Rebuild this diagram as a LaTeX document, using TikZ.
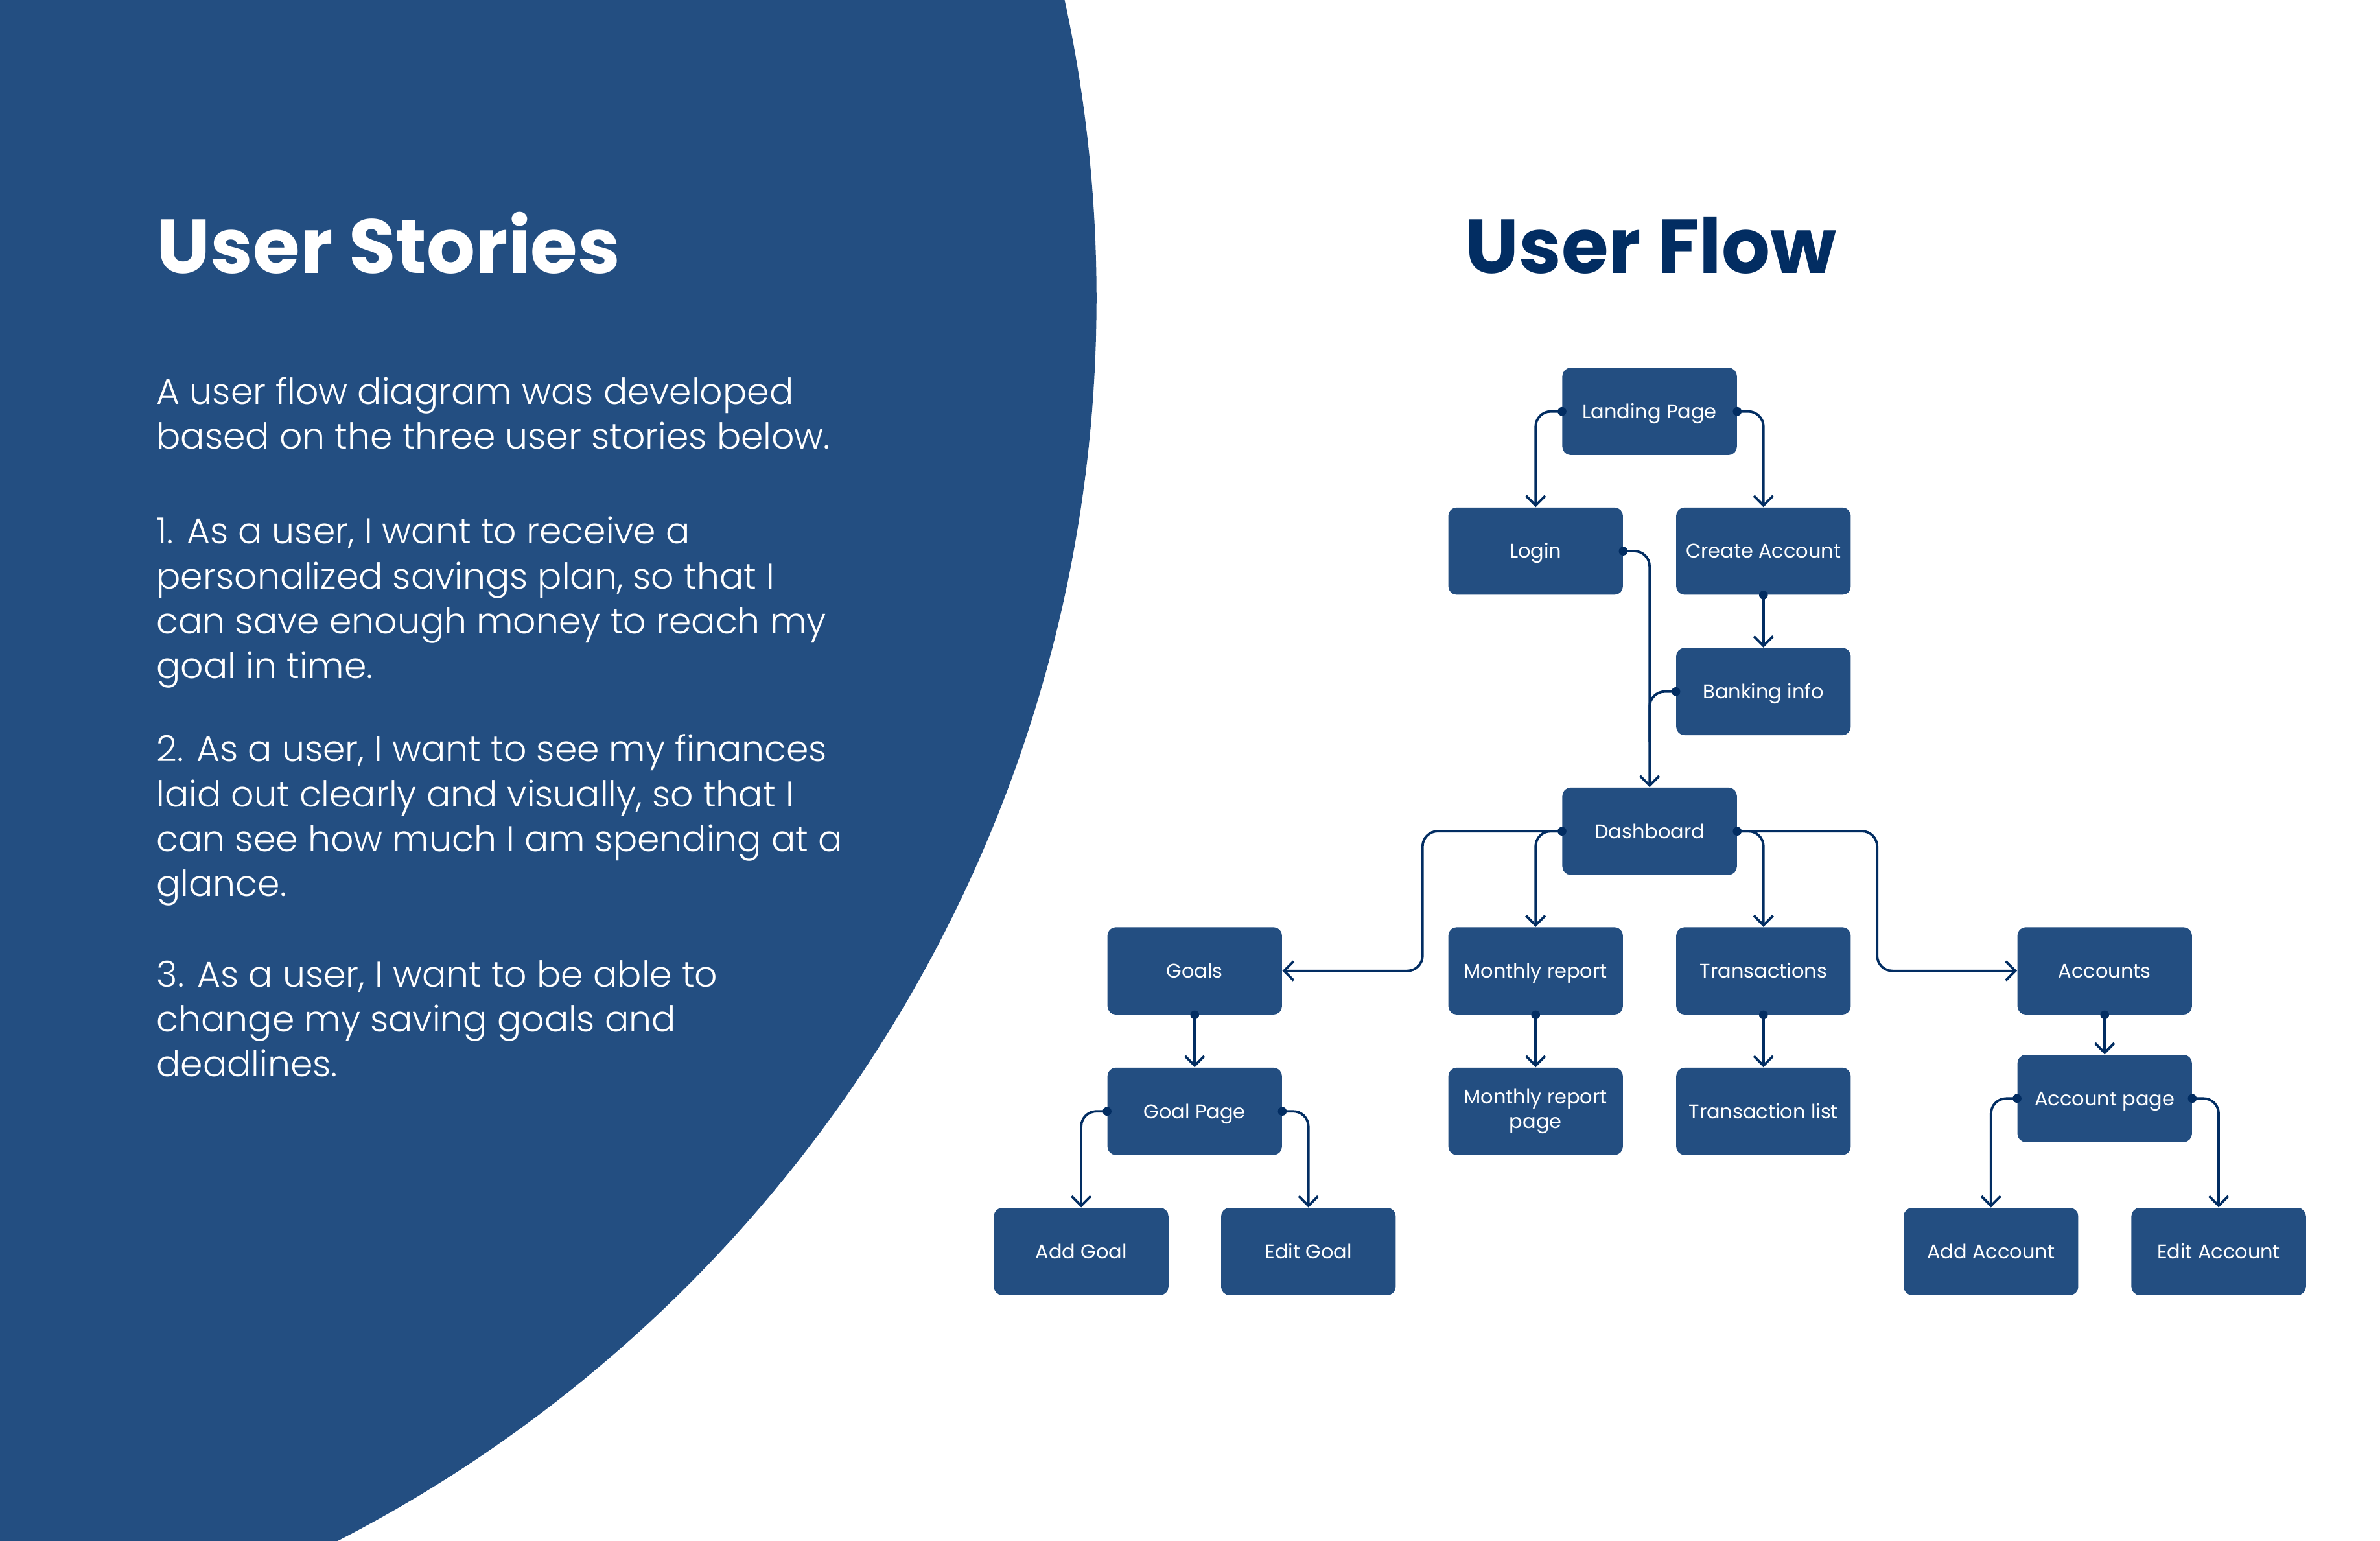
\documentclass[tikz,border=0pt]{standalone}
\usepackage{fontspec}
\usetikzlibrary{arrows.meta}
\newfontfamily\titlefont{Poppins}
\newfontfamily\bodyfont{Poppins Light}
\newfontfamily\boxfont{Poppins}
\definecolor{circblue}{HTML}{234E81}
\definecolor{navy}{HTML}{022D62}
\begin{document}
\begin{tikzpicture}[x=1pt,y=-1pt,
  box/.style={rectangle, rounded corners=5.5pt, fill=circblue, minimum width=115pt, minimum height=57.5pt, inner sep=0pt, text=white, font=\boxfont\fontsize{13}{14.2}\selectfont},
  oneline/.style={text height=9.3pt, text depth=0pt},
  conn/.style={draw=navy, line width=1.6pt, rounded corners=10pt, -{Straight Barb[length=6.3pt,width=12.6pt]}},
  link/.style={draw=navy, line width=1.6pt, rounded corners=10pt},
  para/.style={anchor=base west, inner sep=0pt, align=left, text=white, font=\bodyfont\fontsize{23.6}{29.6}\selectfont},
  ttl/.style={anchor=base west, inner sep=0pt, font=\titlefont\bfseries\fontsize{50.3}{60}\selectfont}
]
\useasboundingbox (0,0) rectangle (1568,1015);
\fill[white] (0,0) rectangle (1568,1015);
\begin{scope}
  \clip (0,0) rectangle (1568,1015);
  \fill[circblue] (-197.3,196.4) circle (919.7pt);
\end{scope}

% titles
\node[ttl, text=white] (ustitle) at (103,180) {User Stories};
\node[ttl, text=navy] (uftitle) at (965,180) {User Flow};

% paragraphs (anchored at the baseline of their last line)
\node[para] (p0) at (103,295.7) {A user flow diagram was developed\\based on the three user stories below.};
\node[para] (p1) at (103,447.0) {1. As a user, I want to receive a\\personalized savings plan, so that I\\can save enough money to reach my\\goal in time.};
\node[para] (p2) at (103,590.4) {2. As a user, I want to see my finances\\laid out clearly and visually, so that I\\can see how much I am spending at a\\glance.};
\node[para] (p3) at (103,709.2) {3. As a user, I want to be able to\\change my saving goals and\\deadlines.};

% flow nodes
\node[box,oneline] (landing) at (1086.8,271) {Landing Page};
\node[box,oneline] (login) at (1011.7,363) {Login};
\node[box,oneline] (create) at (1161.8,363) {Create Account};
\node[box,oneline] (bank) at (1161.8,455.5) {Banking info};
\node[box,oneline] (dash) at (1086.8,547.5) {Dashboard};
\node[box,oneline] (goals) at (787.1,639.5) {Goals};
\node[box,oneline] (monthly) at (1011.7,639.5) {Monthly report};
\node[box,oneline] (trans) at (1161.8,639.5) {Transactions};
\node[box,oneline] (accounts) at (1386.6,639.5) {Accounts};
\node[box,oneline] (gpage) at (787.1,732) {Goal Page};
\node[box,align=center,font=\boxfont\fontsize{13}{16}\selectfont] (mpage) at (1011.7,732) {Monthly report\\page};
\node[box,oneline] (tlist) at (1161.8,732) {Transaction list};
\node[box,oneline] (apage) at (1386.6,723.5) {Account page};
\node[box,oneline] (addgoal) at (712.3,824.3) {Add Goal};
\node[box,oneline] (editgoal) at (862,824.3) {Edit Goal};
\node[box,oneline] (addacc) at (1311.7,824.3) {Add Account};
\node[box,oneline] (editacc) at (1461.7,824.3) {Edit Account};

\coordinate (lbus) at (937.2,593);
\coordinate (rbus) at (1236.7,593);

% connectors
\draw[conn] (landing.west) -| (login.north);
\draw[conn] (landing.east) -| (create.north);
\draw[conn] (login.east) -| (dash.north);
\draw[link] (bank.west) -| ([yshift=30pt]dash.north);
\draw[conn] (create.south) -- (bank.north);
\draw[conn] (dash.west) -| (lbus) |- (goals.east);
\draw[conn] (dash.west) -| (monthly.north);
\draw[conn] (dash.east) -| (trans.north);
\draw[conn] (dash.east) -| (rbus) |- (accounts.west);
\draw[conn] (monthly.south) -- (mpage.north);
\draw[conn] (trans.south) -- (tlist.north);
\draw[conn] (goals.south) -- (gpage.north);
\draw[conn] (gpage.west) -| (addgoal.north);
\draw[conn] (gpage.east) -| (editgoal.north);
\draw[conn] (accounts.south) -- (apage.north);
\draw[conn] (apage.west) -| (addacc.north);
\draw[conn] (apage.east) -| (editacc.north);

% dots
\foreach \p in {landing.west, landing.east, login.east, create.south, bank.west, dash.west, dash.east, goals.south, monthly.south, trans.south, gpage.west, gpage.east, accounts.south, apage.west, apage.east}
  \fill[navy] (\p) circle (2.9pt);
\end{tikzpicture}
\end{document}
